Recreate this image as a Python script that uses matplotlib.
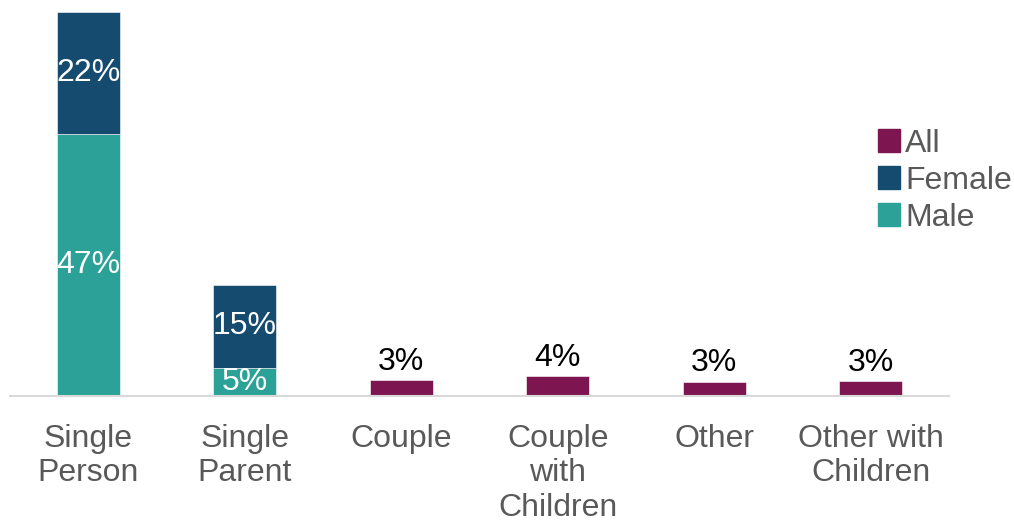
import matplotlib.pyplot as plt
from matplotlib.patches import Patch
import numpy as np

plt.rcParams["font.family"] = ["Liberation Sans", "DejaVu Sans"]

categories = ["Single\nPerson", "Single\nParent", "Couple", "Couple\nwith\nChildren",
              "Other", "Other with\nChildren"]
male = [47, 5, 0, 0, 0, 0]
female = [22, 15, 0, 0, 0, 0]
all_hh = [0, 0, 2.9, 3.6, 2.6, 2.7]

c_male = "#2ba197"
c_female = "#154b6e"
c_all = "#7d1650"

fig = plt.figure(figsize=(10.14, 5.22), dpi=100)
ax = fig.add_axes([10 / 1014, 126 / 522, 939 / 1014, 384 / 522])

x = np.arange(len(categories))
w = 0.4
m = np.array(male)
f = np.array(female)
a = np.array(all_hh)

ax.bar(x, m, w, color=c_male, edgecolor="white", linewidth=0.4)
ax.bar(x, f, w, bottom=m, color=c_female, edgecolor="white", linewidth=0.4)
ax.bar(x, a, w, color=c_all, edgecolor="white", linewidth=0.4)

fs = 23
for i in range(len(x)):
    if m[i] > 0:
        ax.text(x[i], m[i] / 2, f"{m[i]:.0f}%", ha="center", va="center",
                color="white", fontsize=fs)
    if f[i] > 0:
        ax.text(x[i], m[i] + f[i] / 2, f"{f[i]:.0f}%", ha="center", va="center",
                color="white", fontsize=fs)
    if a[i] > 0:
        ax.text(x[i], a[i] + 0.6, f"{a[i]:.0f}%", ha="center", va="bottom",
                color="black", fontsize=fs)

ax.set_xlim(-0.5, len(x) - 0.5)
ax.set_ylim(0, 69)
ax.set_xticks(x)
ax.set_xticklabels(categories, fontsize=fs, color="#595959", linespacing=1.2)
ax.tick_params(axis="x", length=0, pad=20)
ax.set_yticks([])
for s in ["top", "right", "left"]:
    ax.spines[s].set_visible(False)
ax.spines["bottom"].set_color("#d9d9d9")
ax.spines["bottom"].set_linewidth(1.5)

handles = [Patch(color=c_all, label="All"),
           Patch(color=c_female, label="Female"),
           Patch(color=c_male, label="Male")]
fig.legend(handles=handles, loc="upper left", bbox_to_anchor=(865 / 1014, 1 - 116 / 522),
           frameon=False, fontsize=fs, labelcolor="#595959",
           handlelength=0.7, handleheight=0.7, handletextpad=0.15,
           labelspacing=0.22, borderaxespad=0)

fig.savefig("out.png", dpi=100)
